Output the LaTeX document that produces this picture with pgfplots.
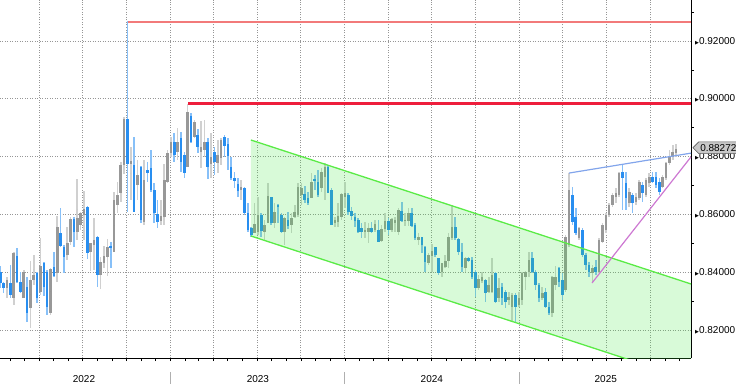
\documentclass[border=0pt]{standalone}
\usepackage{fontspec}
\setmainfont{Liberation Sans}
\newfontfamily\symf{DejaVu Sans}
\usepackage{pgfplots}
\usepackage{pgfplotstable}
\pgfplotsset{compat=1.18}
\usetikzlibrary{shapes.symbols}

\definecolor{upbody}{RGB}{152,152,152}
\definecolor{upwick}{RGB}{208,208,208}
\definecolor{dnbody}{RGB}{40,142,240}
\definecolor{dnwick}{RGB}{135,192,248}
\definecolor{chline}{RGB}{90,235,70}
\definecolor{chfill}{RGB}{60,230,60}
\definecolor{crimsonline}{RGB}{238,30,60}
\definecolor{bline}{RGB}{130,165,235}
\definecolor{vline}{RGB}{205,120,210}
\definecolor{gridc}{RGB}{150,150,150}
\definecolor{sepc}{RGB}{175,175,175}
\definecolor{tagfill}{RGB}{200,200,200}
\definecolor{tagdraw}{RGB}{90,90,90}

\newcommand\sep{\textcolor{sepc}{\rule[-19pt]{1pt}{12pt}}}

\pgfplotstableread{
w O H L C
3 .8344 .8385 .8310 .8373
5 .8310 .8471 .8287 .8465
8 .8310 .8408 .8310 .8402
10 .8275 .8440 .8206 .8373
11 .8373 .8460 .8356 .8390
13 .8333 .8517 .8321 .8422
16 .8258 .8414 .8252 .8410
18 .8399 .8595 .8367 .8555
21 .8460 .8558 .8442 .8500
22 .8506 .8590 .8494 .8583
24 .8540 .8721 .8512 .8587
25 .8563 .8610 .8546 .8604
26 .8598 .8681 .8512 .8618
28 .8471 .8502 .8405 .8502
29 .8494 .8587 .8408 .8512
31 .8390 .8454 .8341 .8437
32 .8433 .8491 .8414 .8456
33 .8454 .8514 .8388 .8486
35 .8471 .8679 .8471 .8650
36 .8633 .8713 .8604 .8667
37 .8675 .8783 .8644 .8771
38 .8771 .8937 .8740 .8930
40 .8774 .8834 .8650 .8786
42 .8702 .8788 .8650 .8736
44 .8575 .8788 .8563 .8719
49 .8577 .8650 .8563 .8595
50 .8592 .8774 .8563 .8719
51 .8713 .8823 .8708 .8811
52 .8811 .8869 .8800 .8852
54 .8817 .8898 .8788 .8852
57 .8765 .8982 .8763 .8955
59 .8869 .8927 .8863 .8921
61 .8817 .8924 .8759 .8832
62 .8823 .8927 .8800 .8852
64 .8774 .8880 .8725 .8800
66 .8779 .8858 .8742 .8806
67 .8794 .8863 .8771 .8858
73 .8685 .8719 .8650 .8694
77 .8537 .8638 .8535 .8567
78 .8540 .8662 .8529 .8598
80 .8540 .8581 .8512 .8563
81 .8571 .8708 .8569 .8662
83 .8569 .8638 .8552 .8610
86 .8540 .8592 .8494 .8587
88 .8563 .8604 .8535 .8587
89 .8592 .8633 .8587 .8610
90 .8598 .8708 .8592 .8696
91 .8667 .8708 .8633 .8690
94 .8656 .8742 .8656 .8713
97 .8690 .8759 .8679 .8748
98 .8731 .8777 .8650 .8765
101 .8569 .8592 .8555 .8581
102 .8575 .8638 .8558 .8595
103 .8592 .8673 .8581 .8671
104 .8661 .8713 .8621 .8673
110 .8539 .8575 .8517 .8546
111 .8540 .8571 .8500 .8552
113 .8546 .8581 .8540 .8567
115 .8509 .8563 .8506 .8548
116 .8548 .8604 .8540 .8578
118 .8546 .8587 .8540 .8583
119 .8569 .8592 .8540 .8581
120 .8540 .8621 .8529 .8615
122 .8578 .8604 .8560 .8581
123 .8578 .8621 .8560 .8604
126 .8511 .8534 .8494 .8523
129 .8433 .8465 .8425 .8460
130 .8457 .8498 .8402 .8475
133 .8402 .8433 .8385 .8431
134 .8419 .8460 .8413 .8440
135 .8440 .8534 .8413 .8523
136 .8518 .8633 .8511 .8558
140 .8413 .8454 .8402 .8448
144 .8344 .8390 .8338 .8375
145 .8371 .8402 .8362 .8382
147 .8333 .8385 .8327 .8356
148 .8333 .8448 .8327 .8390
150 .8310 .8379 .8298 .8344
153 .8304 .8333 .8287 .8315
154 .8279 .8327 .8229 .8321
156 .8287 .8333 .8281 .8310
157 .8304 .8402 .8287 .8396
158 .8385 .8404 .8340 .8400
159 .8400 .8471 .8385 .8442
163 .8310 .8350 .8304 .8327
166 .8258 .8387 .8246 .8382
167 .8356 .8421 .8338 .8382
170 .8340 .8529 .8330 .8523
171 .8494 .8742 .8488 .8684
174 .8517 .8558 .8512 .8552
178 .8396 .8425 .8362 .8414
180 .8402 .8517 .8396 .8512
181 .8506 .8569 .8500 .8563
182 .8546 .8604 .8535 .8598
183 .8598 .8638 .8592 .8633
184 .8633 .8673 .8627 .8667
185 .8661 .8690 .8638 .8673
186 .8667 .8748 .8661 .8742
189 .8638 .8690 .8627 .8679
191 .8644 .8673 .8633 .8661
192 .8656 .8719 .8650 .8713
194 .8667 .8725 .8661 .8719
195 .8708 .8742 .8696 .8731
199 .8696 .8736 .8690 .8731
200 .8725 .8782 .8719 .8777
201 .8777 .8823 .8771 .8800
202 .8800 .8840 .8788 .8817
203 .8811 .8844 .8800 .8827
}\up

\pgfplotstableread{
w O H L C
1 .8402 .8422 .8344 .8362
2 .8362 .8367 .8327 .8344
4 .8362 .8425 .8310 .8321
6 .8456 .8483 .8362 .8367
7 .8367 .8402 .8327 .8333
9 .8350 .8385 .8229 .8260
12 .8396 .8402 .8292 .8310
14 .8433 .8437 .8316 .8350
15 .8402 .8408 .8252 .8281
17 .8419 .8471 .8385 .8387
19 .8535 .8621 .8488 .8491
20 .8488 .8494 .8396 .8454
23 .8583 .8590 .8488 .8540
27 .8625 .8629 .8445 .8468
30 .8523 .8525 .8348 .8390
34 .8491 .8506 .8414 .8483
39 .8930 .9269 .8608 .8774
41 .8771 .8869 .8610 .8610
43 .8763 .8768 .8569 .8581
45 .8754 .8783 .8713 .8742
46 .8759 .8823 .8679 .8685
47 .8685 .8708 .8569 .8604
48 .8601 .8650 .8552 .8575
53 .8852 .8883 .8783 .8806
55 .8863 .8886 .8748 .8783
56 .8806 .8817 .8725 .8742
58 .8940 .8950 .8846 .8852
60 .8875 .8894 .8811 .8832
63 .8852 .8863 .8721 .8765
65 .8817 .8832 .8736 .8783
68 .8869 .8875 .8800 .8837
69 .8844 .8863 .8754 .8802
70 .8763 .8800 .8719 .8725
71 .8725 .8748 .8690 .8717
72 .8705 .8725 .8661 .8682
74 .8690 .8694 .8598 .8604
75 .8604 .8638 .8540 .8546
76 .8552 .8558 .8523 .8529
79 .8598 .8604 .8523 .8544
82 .8659 .8662 .8563 .8571
84 .8633 .8636 .8569 .8625
85 .8598 .8604 .8535 .8540
87 .8581 .8610 .8548 .8560
92 .8671 .8698 .8641 .8650
93 .8656 .8679 .8633 .8638
95 .8721 .8736 .8685 .8717
96 .8713 .8754 .8661 .8667
99 .8763 .8771 .8673 .8675
100 .8685 .8690 .8563 .8563
105 .8667 .8675 .8598 .8610
106 .8612 .8627 .8581 .8595
107 .8592 .8604 .8558 .8578
108 .8581 .8587 .8535 .8540
109 .8552 .8569 .8517 .8540
112 .8552 .8575 .8535 .8540
114 .8546 .8581 .8506 .8506
117 .8578 .8587 .8529 .8546
121 .8612 .8644 .8575 .8578
124 .8604 .8621 .8555 .8560
125 .8563 .8569 .8512 .8517
127 .8521 .8523 .8465 .8494
128 .8488 .8491 .8402 .8436
131 .8486 .8488 .8454 .8460
132 .8448 .8448 .8390 .8398
137 .8558 .8592 .8511 .8518
138 .8514 .8518 .8460 .8471
139 .8471 .8500 .8402 .8419
141 .8448 .8454 .8436 .8440
142 .8442 .8454 .8375 .8382
143 .8402 .8408 .8315 .8344
146 .8373 .8375 .8298 .8327
149 .8398 .8402 .8292 .8298
151 .8350 .8362 .8287 .8310
152 .8333 .8338 .8275 .8298
155 .8321 .8327 .8223 .8281
160 .8448 .8471 .8396 .8402
161 .8402 .8408 .8338 .8356
162 .8356 .8362 .8298 .8310
164 .8333 .8344 .8275 .8281
165 .8281 .8298 .8252 .8258
168 .8414 .8419 .8350 .8367
169 .8373 .8396 .8304 .8321
172 .8667 .8696 .8563 .8575
173 .8592 .8621 .8529 .8535
175 .8546 .8552 .8454 .8460
176 .8460 .8466 .8408 .8425
177 .8425 .8437 .8385 .8402
179 .8419 .8442 .8390 .8402
187 .8748 .8771 .8615 .8725
188 .8708 .8748 .8615 .8656
190 .8667 .8673 .8604 .8638
193 .8702 .8713 .8644 .8673
196 .8731 .8748 .8708 .8713
197 .8731 .8746 .8690 .8702
198 .8713 .8725 .8667 .8679
}\down

\begin{document}
\begin{tikzpicture}
\begin{axis}[
  at={(0,0)}, anchor=south west,
  scale only axis, width=691pt, height=358pt,
  xmin=0.897, xmax=207.47, ymin=0.81031, ymax=0.93418,
  axis x line*=bottom, axis y line*=right,
  axis line style={black, line width=0.8pt, -},
  clip mode=individual,
  tick align=outside,
  major tick length=3pt, minor tick length=3pt,
  tick style={black, line width=0.7pt},
  every major y tick/.append style={draw=none},
  xtick={12.56,25.56,38.7,51.84,64.7,77.7,90.84,103.99,116.99,129.99,143.13,156.27,169.13,182.13,195.27},
  xticklabels={,,,\sep,,,,\sep,,,,\sep,,,},
  minor xtick={4.13,8.13,16.84,21.27,29.99,34.41,43.13,47.41,56.27,60.27,68.99,73.41,82.13,86.56,95.27,99.56,108.41,112.56,121.27,125.7,134.41,138.84,147.56,151.84,160.7,164.7,173.41,177.84,186.56,190.99,199.7,203.99},
  extra x ticks={26,78,130,182},
  extra x tick labels={2022,2023,2024,2025},
  extra x tick style={grid=none, tick style={draw=none}, xticklabel style={yshift=-11pt}},
  ytick={0.82,0.84,0.86,0.88,0.90,0.92},
  minor ytick={0.81,0.83,0.85,0.87,0.89,0.91,0.93},
  scaled y ticks=false,
  yticklabel={{\symf\fontsize{5}{5}\selectfont ▶}\pgfmathprintnumber[fixed,fixed zerofill,precision=5,assume math mode=true]{\tick}},
  yticklabel style={anchor=west, inner sep=0pt, xshift=1pt},
  tick label style={font=\fontsize{10}{12}\selectfont, text=black},
  xmajorgrids, ymajorgrids,
  major grid style={gridc, line width=0.8pt, dash pattern=on 1pt off 1.5pt},
  candle/.style={only marks, mark=none, mark size=0pt, mark options={draw=none, fill=none}, forget plot,
     error bars/y dir=both, error bars/y explicit, error bars/error mark=none},
]
% wicks
\addplot[candle, error bars/error bar style={draw=upwick, line width=1.6pt}]
  table[x=w, y expr={(\thisrow{H}+\thisrow{L})/2}, y error expr={(\thisrow{H}-\thisrow{L})/2}] {\up};
\addplot[candle, error bars/error bar style={draw=dnwick, line width=1.6pt}]
  table[x=w, y expr={(\thisrow{H}+\thisrow{L})/2}, y error expr={(\thisrow{H}-\thisrow{L})/2}] {\down};
% bodies
\addplot[candle, error bars/error bar style={draw=upbody, line width=2.6pt}]
  table[x=w, y expr={(\thisrow{O}+\thisrow{C})/2}, y error expr={abs(\thisrow{C}-\thisrow{O})/2}] {\up};
\addplot[candle, error bars/error bar style={draw=dnbody, line width=2.6pt}]
  table[x=w, y expr={(\thisrow{O}+\thisrow{C})/2}, y error expr={abs(\thisrow{C}-\thisrow{O})/2}] {\down};
% channel
\addplot[draw=none, fill=chfill, fill opacity=0.2, forget plot] coordinates {(75.9,0.88574) (207.47,0.83592) (207.47,0.80271) (75.9,0.85253)} -- cycle;
\addplot[draw=chline, line width=1.3pt, forget plot] coordinates {(75.9,0.88574) (207.47,0.83592)};
\addplot[draw=chline, line width=1.3pt, forget plot] coordinates {(75.9,0.85253) (207.47,0.80271)};
% resistance lines
\addplot[draw={rgb,255:red,242;green,122;blue,122}, line width=1.8pt, forget plot] coordinates {(39.2,0.9267) (207.47,0.9267)};
\addplot[draw=crimsonline, line width=3pt, forget plot] coordinates {(57.1,0.8983) (207.47,0.8983)};
% wedge lines
\addplot[draw=bline, line width=1.2pt, forget plot] coordinates {(171.0,0.8743) (207.47,0.8812)};
\addplot[draw=vline, line width=1.2pt, forget plot] coordinates {(177.9,0.8363) (207.47,0.8799)};
% last price tag
\node[signal, signal to=west, fill=tagfill, draw=tagdraw, line width=0.6pt, inner xsep=1.5pt, inner ysep=2.3pt,
  anchor=west, font=\fontsize{10}{12}\selectfont, xshift=1.5pt, yshift=1pt] at (axis cs:207.47,0.88272) {0.88272};
\end{axis}
\pgfresetboundingbox
\path[use as bounding box] (0,-26pt) rectangle (736pt,358pt);
\end{tikzpicture}
\end{document}
